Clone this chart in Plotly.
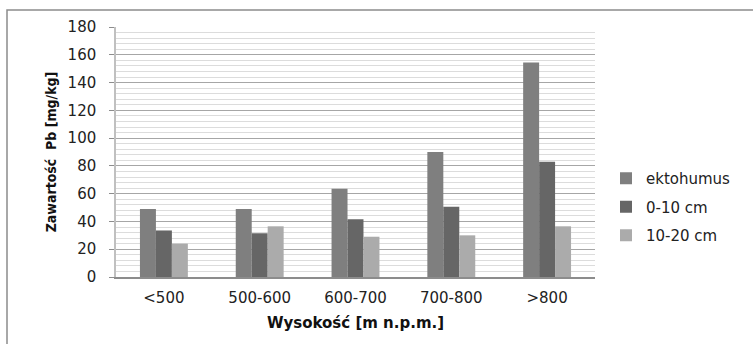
import plotly.graph_objects as go

categories = ["<500", "500-600", "600-700", "700-800", ">800"]
ektohumus = [49, 49, 63.5, 90, 154.5]
cm_0_10 = [33.5, 31.5, 41.5, 50.5, 83]
cm_10_20 = [24, 36.5, 29, 30, 36.5]

series = [
    ("ektohumus", ektohumus, "#7f7f7f"),
    ("0-10 cm", cm_0_10, "#666666"),
    ("10-20 cm", cm_10_20, "#ababab"),
]

W, H = 753, 344
L, R, T, B = 116, 158, 27, 67
pw, ph = W - L - R, H - T - B

fig = go.Figure()
for i, (name, vals, col) in enumerate(series):
    fig.add_trace(go.Bar(
        x=categories, y=vals, name=name, marker_color=col,
        marker_line_width=0, legendgroup=f"g{i}",
    ))

tick_font = dict(family="DejaVu Sans", size=15, color="#222222")

fig.update_layout(
    width=W, height=H,
    margin=dict(l=L, r=R, t=T, b=B, autoexpand=False),
    paper_bgcolor="white", plot_bgcolor="white",
    barmode="group", bargap=0.5, bargroupgap=0,
    font=tick_font,
    legend=dict(xref="container", yref="container",
                x=606 / W, y=1 - 207 / H, xanchor="left", yanchor="middle",
                font=dict(family="DejaVu Sans", size=15, color="#222222"),
                tracegroupgap=6, bgcolor="rgba(0,0,0,0)"),
    xaxis=dict(
        showline=True, linecolor="#8c8c8c", linewidth=1.5,
        ticks="", tickfont=tick_font, ticklabelstandoff=6,
        title=dict(text="Wysokość [m n.p.m.]", standoff=12,
                   font=dict(family="DejaVu Sans", size=15, color="#111111", weight="bold")),
    ),
    yaxis=dict(
        range=[0, 180], dtick=20, tick0=0,
        showline=True, linecolor="#c0c0c0", linewidth=1.5,
        ticks="outside", ticklen=5, tickcolor="#8c8c8c",
        gridcolor="#a6a6a6", gridwidth=1,
        zeroline=False, tickfont=tick_font, ticklabelstandoff=10,
        minor=dict(dtick=4, showgrid=True, gridcolor="#dcdcdc", gridwidth=1),
        title=dict(text="Zawartość  Pb [mg/kg]", standoff=8,
                   font=dict(family="DejaVu Sans Condensed", size=14, color="#111111", weight="bold")),
    ),
)

# outer frame of the chart area
fig.add_shape(type="rect", xref="paper", yref="paper",
              x0=(7 - L) / pw, x1=(W + 40 - L) / pw,
              y0=(277 - (H + 40)) / ph, y1=(277 - 10) / ph,
              line=dict(color="#8c8c8c", width=1.5), fillcolor="rgba(0,0,0,0)", layer="below")

fig.write_html("out.html")
